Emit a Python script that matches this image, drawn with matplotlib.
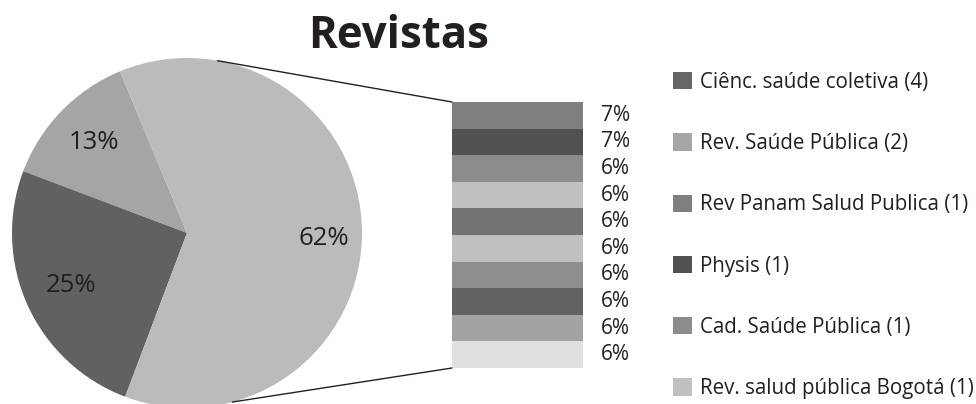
import matplotlib
matplotlib.use("Agg")
import matplotlib.pyplot as plt
from matplotlib.patches import ConnectionPatch, Patch
import numpy as np

plt.rcParams['font.family'] = ['Open Sans', 'DejaVu Sans']

# pie data (counter-clockwise from the top-left edge)
pie_labels = ["13%", "25%", "62%"]
pie_values = [13, 25, 62]
pie_colors = ["#a4a5a4", "#616161", "#bbbbbb"]

# bar data (top to bottom)
bar_labels = ["7%", "7%", "6%", "6%", "6%", "6%", "6%", "6%", "6%", "6%"]
bar_values = [1, 1, 1, 1, 1, 1, 1, 1, 1, 1]
bar_colors = ["#7f7f7f", "#525252", "#8c8c8c", "#c0c0c0", "#737373",
              "#c0c0c0", "#8e8e8e", "#626262", "#a3a3a3", "#e0e0e0"]

# legend
legend_names = ["Ciênc. saúde coletiva (4)", "Rev. Saúde Pública (2)",
                "Rev Panam Salud Publica (1)", "Physis (1)",
                "Cad. Saúde Pública (1)", "Rev. salud pública Bogotá (1)"]
legend_colors = ["#666666", "#a5a5a5", "#7f7f7f", "#525252", "#8c8c8c", "#c0c0c0"]

W, H = 976, 404
fig = plt.figure(figsize=(W / 100, H / 100), dpi=100)

# pie axes
r = 175
cx, cy = 187, H - 233
ax1 = fig.add_axes([(cx - r) / W, (cy - r) / H, 2 * r / W, 2 * r / H])
wedges, _ = ax1.pie(pie_values, colors=pie_colors, startangle=112.5, radius=1,
                    wedgeprops=dict(linewidth=0))
ax1.set_xlim(-1, 1)
ax1.set_ylim(-1, 1)
ax1.set_aspect("equal")
ax1.axis("off")
dists = [0.74, 0.73, 0.78]
shift = [0, 0, -3]
for w, lab, d, s in zip(wedges, pie_labels, dists, shift):
    th = np.deg2rad((w.theta1 + w.theta2) / 2 + s)
    ax1.text(d * np.cos(th), d * np.sin(th), lab, ha="center", va="center",
             fontsize=18.5, color="#231f20")

# bar axes
bx0, bx1 = 452, 583
by0, by1 = H - 368, H - 102
ax2 = fig.add_axes([bx0 / W, by0 / H, (bx1 - bx0) / W, (by1 - by0) / H])
bottom = 0
for v, c, lab in zip(bar_values[::-1], bar_colors[::-1], bar_labels[::-1]):
    ax2.bar(0, v, width=1, bottom=bottom, color=c, linewidth=0)
    ax2.text(0.64, bottom + v / 2, lab, ha="left", va="center",
             fontsize=15, color="#231f20", clip_on=False)
    bottom += v
ax2.set_xlim(-0.5, 0.5)
ax2.set_ylim(0, bottom)
ax2.axis("off")

# connector lines
for ang, yb in [(80, bottom), (-75, 0)]:
    th = np.deg2rad(ang)
    con = ConnectionPatch(xyA=(np.cos(th), np.sin(th)), coordsA=ax1.transData,
                          xyB=(-0.5, yb), coordsB=ax2.transData,
                          color="#231f20", linewidth=1)
    fig.add_artist(con)

# title
fig.text(399 / W, (H - 48) / H, "Revistas", ha="center", va="baseline",
         fontsize=31.5, fontweight="bold", color="#231f20")

# legend
handles = [Patch(facecolor=c, edgecolor="none") for c in legend_colors]
fig.legend(handles, legend_names, loc="upper left",
           bbox_to_anchor=(673 / W, (H - 71.7) / H), frameon=False,
           fontsize=14.8, labelspacing=1.96, handlelength=0.92,
           handleheight=0.92, handletextpad=0.4, labelcolor="#231f20",
           borderaxespad=0, borderpad=0)

fig.savefig("out.png", dpi=100)
